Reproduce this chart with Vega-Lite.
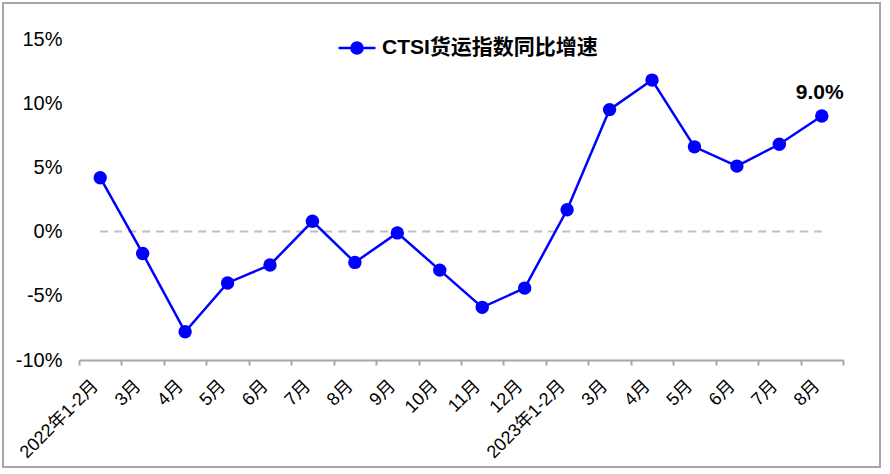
{
  "$schema": "https://vega.github.io/schema/vega-lite/v6.json",
  "width": 877,
  "height": 464,
  "autosize": {"type": "none"},
  "padding": {"left": 3, "top": 3, "right": 10, "bottom": 7},
  "background": "white",
  "config": {
    "font": "Liberation Sans, Noto Sans CJK SC",
    "view": {"stroke": "#a6a6a6", "strokeWidth": 2}
  },
  "datasets": {
    "main": [
      {"k": "01|2022年1-2月", "v": 4.2},
      {"k": "02|3月", "v": -1.7},
      {"k": "03|4月", "v": -7.8},
      {"k": "04|5月", "v": -4.0},
      {"k": "05|6月", "v": -2.6},
      {"k": "06|7月", "v": 0.8},
      {"k": "07|8月", "v": -2.4},
      {"k": "08|9月", "v": -0.1},
      {"k": "09|10月", "v": -3.0},
      {"k": "10|11月", "v": -5.9},
      {"k": "11|12月", "v": -4.4},
      {"k": "12|2023年1-2月", "v": 1.7},
      {"k": "13|3月", "v": 9.5},
      {"k": "14|4月", "v": 11.8},
      {"k": "15|5月", "v": 6.6},
      {"k": "16|6月", "v": 5.1},
      {"k": "17|7月", "v": 6.8},
      {"k": "18|8月", "v": 9.0}
    ],
    "zero": [{"a": "01|2022年1-2月", "b": "18|8月"}]
  },
  "layer": [
    {
      "data": {"name": "zero"},
      "mark": {"type": "rule", "color": "#bfbfbf", "strokeDash": [8, 6], "strokeWidth": 2},
      "encoding": {
        "x": {"field": "a", "type": "nominal", "sort": "ascending", "scale": {"type": "band", "range": [76, 840], "paddingInner": 0, "paddingOuter": 0}},
        "x2": {"field": "b"},
        "y": {"datum": 0, "type": "quantitative"}
      }
    },
    {
      "data": {"name": "main"},
      "mark": {"type": "line", "strokeWidth": 2.5, "point": {"filled": true, "size": 180, "opacity": 1}},
      "encoding": {
        "x": {
          "field": "k", "type": "nominal", "sort": "ascending",
          "scale": {"type": "band", "range": [76, 840], "paddingInner": 0, "paddingOuter": 0},
          "axis": {
            "title": null,
            "labelExpr": "split(datum.label,'|')[1]",
            "labelAngle": -45,
            "labelAlign": "right",
            "labelBaseline": "middle",
            "labelFontSize": 18,
            "labelColor": "#000000",
            "labelLimit": 0,
            "labelOffset": -5,
            "tickBand": "extent",
            "tickSize": 5,
            "tickWidth": 2,
            "tickColor": "#a6a6a6",
            "domainColor": "#a6a6a6",
            "domainWidth": 2,
            "offset": -107,
            "grid": false,
            "labelPadding": 18
          }
        },
        "y": {
          "field": "v", "type": "quantitative",
          "scale": {"domain": [-10, 15], "range": [357, 36], "nice": false, "zero": false},
          "axis": {
            "title": null,
            "values": [-10, -5, 0, 5, 10, 15],
            "labelExpr": "datum.value + '%'",
            "domain": false,
            "ticks": false,
            "grid": false,
            "offset": -76,
            "labelFontSize": 20,
            "labelColor": "#000000",
            "labelPadding": 17
          }
        },
        "color": {
          "datum": "CTSI货运指数同比增速",
          "scale": {"range": ["#0000ff"]},
          "legend": {
            "orient": "none",
            "legendX": 334,
            "legendY": 25,
            "title": null,
            "padding": 0,
            "labelFontSize": 21,
            "labelFontWeight": "bold",
            "labelColor": "#000000",
            "labelLimit": 0,
            "symbolType": "M-1,0H1M-0.3,0A0.3,0.3 0 1,0 0.3,0A0.3,0.3 0 1,0 -0.3,0",
            "symbolSize": 1369,
            "symbolStrokeWidth": 2.5,
            "labelOffset": 5,
            "encode": {"symbols": {"update": {"fill": {"value": "#0000ff"}, "stroke": {"value": "#0000ff"}}}}
          }
        }
      }
    },
    {
      "data": {"name": "main"},
      "transform": [
        {"filter": "datum.k == '18|8月'"},
        {"calculate": "format(datum.v, '.1f') + '%'", "as": "t"}
      ],
      "mark": {"type": "text", "dy": -23, "dx": -2, "fontWeight": "bold", "fontSize": 21, "color": "#000000"},
      "encoding": {
        "x": {"field": "k", "type": "nominal", "sort": "ascending"},
        "y": {"field": "v", "type": "quantitative"},
        "text": {"field": "t"}
      }
    }
  ]
}
